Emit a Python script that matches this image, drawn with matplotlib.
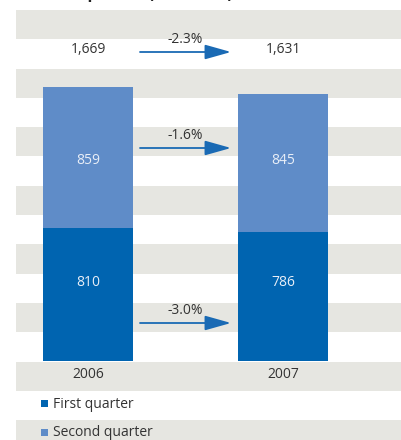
import numpy as np
import matplotlib
matplotlib.use("Agg")
from matplotlib import pyplot as plt
from matplotlib.patches import Rectangle

# data
years = ["2006", "2007"]
first_q = [810, 786]
second_q = [859, 845]
totals = [1669, 1631]
chg_total = "-2.3%"
chg_second = "-1.6%"
chg_first = "-3.0%"
legend_labels = ["First quarter", "Second quarter"]

DARK = "#0064b0"
LIGHT = "#5f8cc8"
GRAY = "#e6e6e1"
TXT = "#333333"
ARROW = "#1a6ab4"

plt.rcParams["font.family"] = ["Open Sans", "DejaVu Sans"]

W, H = 401, 440
fig = plt.figure(figsize=(W / 100, H / 100), dpi=100)

# background axes in pixel coords (origin top-left)
bg = fig.add_axes([0, 0, 1, 1])
bg.set_xlim(0, W)
bg.set_ylim(H, 0)
bg.axis("off")

# stripes
stripe_h = 29.3
y = 10.0
i = 0
while y < H:
    if i % 2 == 0:
        bg.add_patch(Rectangle((16, y), W - 16, stripe_h, color=GRAY, lw=0))
    y += stripe_h
    i += 1

# title, cut off by the top edge as in the original
fig.text(47 / W, 1 + 1.5 / H, "Group sales (in EUR m)", fontsize=12,
         fontweight="bold", color="#222222", va="baseline", ha="left")

# data axes: y=0 at pixel 361, scale 0.164 px per unit
scale = 0.164
y0 = 361
ax = fig.add_axes([16 / W, 0, (W - 16) / W, (H - 10) / H])
ax.set_ylim(-(H - y0) / scale, (y0 - 10) / scale)
ax.set_xlim(-(88 - 16) / 195, (W - 88) / 195)
ax.patch.set_alpha(0)
ax.axis("off")

x = np.arange(len(years))
width = 90 / 195
ax.bar(x, first_q, width, color=DARK, zorder=2)
ax.bar(x, second_q, width, bottom=first_q, color=LIGHT, zorder=2)

for xi, f, s, t, yr in zip(x, first_q, second_q, totals, years):
    ax.text(xi, 480, f"{f}", ha="center", va="center", color="#e8eef7", fontsize=10)
    ax.text(xi, 1225, f"{s}", ha="center", va="center", color="#e8eef7", fontsize=10)
    ax.text(xi, (y0 - 50) / scale, f"{t:,}", ha="center", va="center", color=TXT, fontsize=10)
    ax.text(xi, -(375 - y0) / scale, yr, ha="center", va="center", color=TXT, fontsize=10)

# change arrows between the bars
def arrow(ypix, label):
    yy = (y0 - ypix) / scale
    xa = (140 - 88) / 195
    xb = (231 - 88) / 195
    ax.annotate("", xy=(xb, yy), xytext=(xa, yy),
                arrowprops=dict(arrowstyle="-|>,head_length=1.6,head_width=0.45",
                                color=ARROW, lw=1.3, shrinkA=0, shrinkB=0))
    ax.text((xa + xb) / 2, yy + 12 / scale, label, ha="center", va="center",
            color=TXT, fontsize=10)

arrow(52, chg_total)
arrow(148, chg_second)
arrow(323, chg_first)

# legend
for yl, col, lab in zip([404, 433], [DARK, LIGHT], legend_labels):
    bg.add_patch(Rectangle((41, yl - 3.5), 7, 7, color=col, lw=0))
    bg.text(53, yl, lab, ha="left", va="center", color=TXT, fontsize=10)

fig.savefig("out.png", dpi=100)
